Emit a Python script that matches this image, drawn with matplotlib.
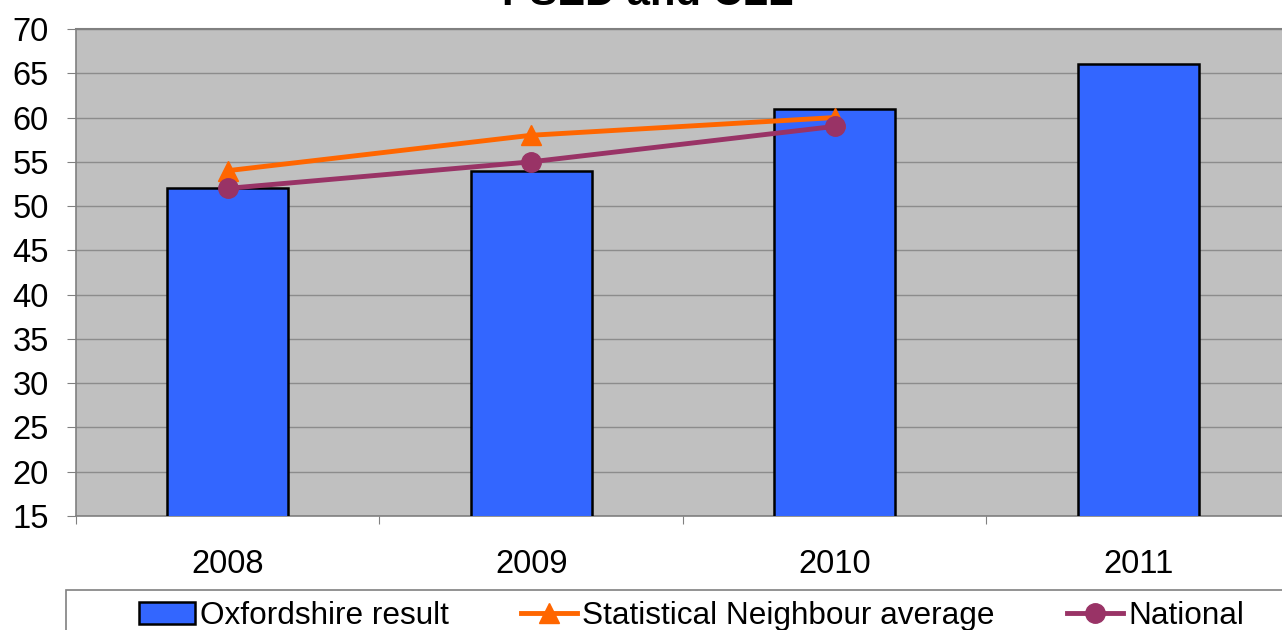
import matplotlib
matplotlib.use("Agg")
import matplotlib.pyplot as plt
from matplotlib.patches import Rectangle

plt.rcParams['font.family'] = ['Liberation Sans', 'DejaVu Sans']

years = ['2008', '2009', '2010', '2011']
oxfordshire = [52, 54, 61, 66]
neighbour = [54, 58, 60]
national = [52, 55, 59]
title = 'PSED and CLL'

W, H = 1282, 630
fig = plt.figure(figsize=(W/100, H/100), dpi=100)
ax = fig.add_axes([76/W, 1-516/H, (1290-76)/W, (516-29)/H])
ax.set_facecolor('#C0C0C0')

x = list(range(len(years)))
b = ax.bar(x, oxfordshire, width=0.4, color='#3366FF', edgecolor='black', linewidth=1.8,
           label='Oxfordshire result', zorder=3)
l1, = ax.plot(x[:len(neighbour)], neighbour, color='#FF6600', linewidth=3.5, marker='^',
              markersize=14, label='Statistical Neighbour average', zorder=4)
l2, = ax.plot(x[:len(national)], national, color='#993366', linewidth=3.5, marker='o',
              markersize=14, label='National', zorder=5)

ax.set_xlim(-0.5, 3.5)
ax.set_ylim(15, 70)
ax.set_yticks(range(15, 71, 5))
ax.yaxis.grid(True, color='#8C8C8C', linewidth=1.0, zorder=0)
ax.set_axisbelow(True)
ax.set_xticks([-0.5, 0.5, 1.5, 2.5, 3.5])
ax.set_xticklabels([])
ax.set_xticks(x, minor=True)
ax.set_xticklabels(years, minor=True)
ax.tick_params(axis='x', which='minor', length=0, pad=24, labelsize=23.5)
ax.tick_params(axis='x', which='major', length=6, color='#808080')
ax.tick_params(axis='y', length=6.5, color='#808080', labelsize=23.5, pad=13)
for s in ['top', 'right']:
    ax.spines[s].set_visible(False)
ax.spines['left'].set_color('#808080')
ax.spines['bottom'].set_color('#808080')
ax.spines['left'].set_linewidth(1.2)
ax.spines['bottom'].set_linewidth(1.2)
ax.plot([-0.5, 3.5], [70, 70], color='#808080', linewidth=1.5, clip_on=False, zorder=2)

fig.text(648/W, 1-5/H, title, ha='center', va='baseline', fontsize=30, fontweight='bold')

# legend frame
fig.patches.append(Rectangle((66/W, -0.1), 1.2, 1-590/H+0.1, transform=fig.transFigure,
                             facecolor='white', edgecolor='#808080', linewidth=1.2, zorder=0))
leg = fig.legend([b, l1, l2], ['Oxfordshire result', 'Statistical Neighbour average', 'National'],
                 loc='center left', bbox_to_anchor=(139/W, 1-616/H), ncol=3,
                 frameon=False, fontsize=22.7, handlelength=1.78, handleheight=0.7,
                 handletextpad=0.15, columnspacing=2.3, borderaxespad=0, borderpad=0)

fig.savefig('out.png', dpi=100)
